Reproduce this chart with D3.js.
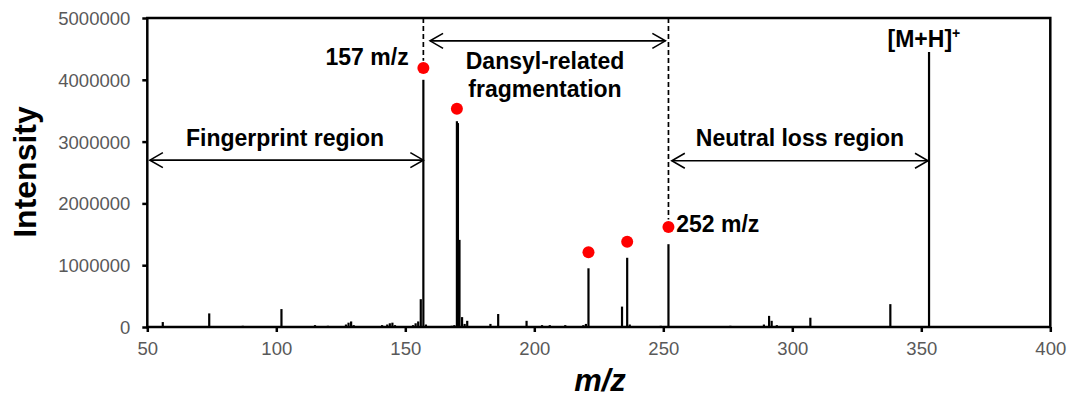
<!DOCTYPE html>
<html>
<head>
<meta charset="utf-8">
<script src="https://cdn.jsdelivr.net/npm/d3@7"></script>
<style>
  html, body { margin: 0; padding: 0; background: #fff; }
  svg { display: block; font-family: Arial, "Liberation Sans", sans-serif; }
</style>
</head>
<body>
<svg id="chart" width="1070" height="400"></svg>
<script>
// ---- data ----
const mzValues = [56, 74, 87, 90, 102, 115, 120, 127, 128, 129, 130, 141, 143, 144, 145, 146,
  153, 154, 155, 156, 157, 158, 168, 169, 170, 170.4, 171, 172, 173, 174, 183, 186, 197, 203, 206,
  212, 219, 220, 221, 234, 236, 237, 249, 252, 276, 289, 291, 292, 294, 307, 338, 353, 356];
const intensities = [80000, 220000, 20000, 15000, 290000, 30000, 20000, 40000, 70000, 90000, 30000,
  30000, 40000, 60000, 70000, 30000, 30000, 60000, 90000, 450000, 4000000, 40000, 20000, 30000,
  3330000, 3300000, 1410000, 160000, 50000, 100000, 50000, 210000, 100000, 30000, 30000, 30000, 30000,
  50000, 950000, 330000, 1120000, 40000, 20000, 1340000, 20000, 40000, 180000, 100000, 30000,
  150000, 370000, 4450000, 10000];
const markerMz = [157, 170, 221, 236, 252];
const markerIntensity = [4190000, 3530000, 1210000, 1380000, 1620000];
const xTicks = [50, 100, 150, 200, 250, 300, 350, 400];
const yTicks = [0, 1000000, 2000000, 3000000, 4000000, 5000000];
const dashedMz = [157, 252];
const dashedBottom = [4310000, 1740000];
const regionLabels = ["Fingerprint region", "Dansyl-related", "fragmentation", "Neutral loss region"];

// ---- layout ----
const svg = d3.select("#chart");
const L = 147.3, R = 1050.3, T = 18, B = 327;
const x = d3.scaleLinear().domain([50, 400]).range([L, R]);
const y = d3.scaleLinear().domain([0, 5000000]).range([B, T]);

// peaks
svg.append("g").selectAll("line").data(mzValues.map((m, i) => [m, intensities[i]])).join("line")
  .attr("x1", d => x(d[0])).attr("x2", d => x(d[0]))
  .attr("y1", y(0)).attr("y2", d => y(d[1]))
  .attr("stroke", "#000").attr("stroke-width", 2.2);

// dashed guide lines
svg.append("g").selectAll("line").data(dashedMz.map((m, i) => [m, dashedBottom[i]])).join("line")
  .attr("x1", d => x(d[0])).attr("x2", d => x(d[0]))
  .attr("y1", y(5000000)).attr("y2", d => y(d[1]))
  .attr("stroke", "#000").attr("stroke-width", 1.7).attr("stroke-dasharray", "5,3");

// markers
svg.append("g").selectAll("circle").data(markerMz.map((m, i) => [m, markerIntensity[i]])).join("circle")
  .attr("cx", d => x(d[0])).attr("cy", d => y(d[1])).attr("r", 6).attr("fill", "#ff0000");

// axes
const xAxis = d3.axisBottom(x).tickValues(xTicks).tickSize(5).tickFormat(d3.format("d"));
const yAxis = d3.axisLeft(y).tickValues(yTicks).tickSize(5).tickFormat(d3.format("d"));
const gx = svg.append("g").attr("transform", `translate(0,${B})`).call(xAxis);
const gy = svg.append("g").attr("transform", `translate(${L},0)`).call(yAxis);
[gx, gy].forEach(g => {
  g.select(".domain").remove();
  g.selectAll(".tick line").attr("stroke", "#000").attr("stroke-width", 2.5);
  g.selectAll(".tick text").attr("fill", "#595959").attr("font-size", 18.5)
    .attr("font-family", "Arial, 'Liberation Sans', sans-serif");
});
gx.selectAll(".tick text").attr("dy", null).attr("y", 28);
gy.selectAll(".tick text").attr("x", -17).attr("dy", "0.35em");

// frame
svg.append("rect").attr("x", L).attr("y", T).attr("width", R - L).attr("height", B - T)
  .attr("fill", "none").attr("stroke", "#000").attr("stroke-width", 2.5);

// axis titles
svg.append("text").attr("transform", "translate(36,172) rotate(-90)")
  .attr("text-anchor", "middle").attr("font-weight", "bold").attr("font-size", 32)
  .text("Intensity");
svg.append("text").attr("x", 600).attr("y", 391)
  .attr("text-anchor", "middle").attr("font-weight", "bold").attr("font-style", "italic")
  .attr("font-size", 31).text("m/z");

// double arrows
function doubleArrow(x1, x2, yy) {
  const g = svg.append("g").attr("stroke", "#000").attr("stroke-width", 1.6).attr("fill", "none");
  g.append("line").attr("x1", x1).attr("x2", x2).attr("y1", yy).attr("y2", yy);
  g.append("path").attr("d", `M${x1 + 13},${yy - 7.5}L${x1},${yy}L${x1 + 13},${yy + 7.5}`);
  g.append("path").attr("d", `M${x2 - 13},${yy - 7.5}L${x2},${yy}L${x2 - 13},${yy + 7.5}`);
}
doubleArrow(x(51), x(157), y(2700000));
doubleArrow(x(159.6), x(250.8), y(4630000));
doubleArrow(x(253.3), x(352.6), y(2690000));

// text annotations
function label(tx, ty, str, anchor) {
  return svg.append("text").attr("x", tx).attr("y", ty).attr("text-anchor", anchor || "middle")
    .attr("font-weight", "bold").attr("font-size", 23).attr("fill", "#000").text(str);
}
label(285, 146, regionLabels[0]);
label(545, 69, regionLabels[1]);
label(545, 97, regionLabels[2]);
label(800, 146, regionLabels[3]);
label(x(151.3), 65, "157 m/z", "end");
label(x(255), 232, "252 m/z", "start");
const mh = label(x(351), 47, "[M+H]", "middle");
mh.append("tspan").attr("font-size", 14).attr("dy", -9).text("+");
</script>
</body>
</html>
